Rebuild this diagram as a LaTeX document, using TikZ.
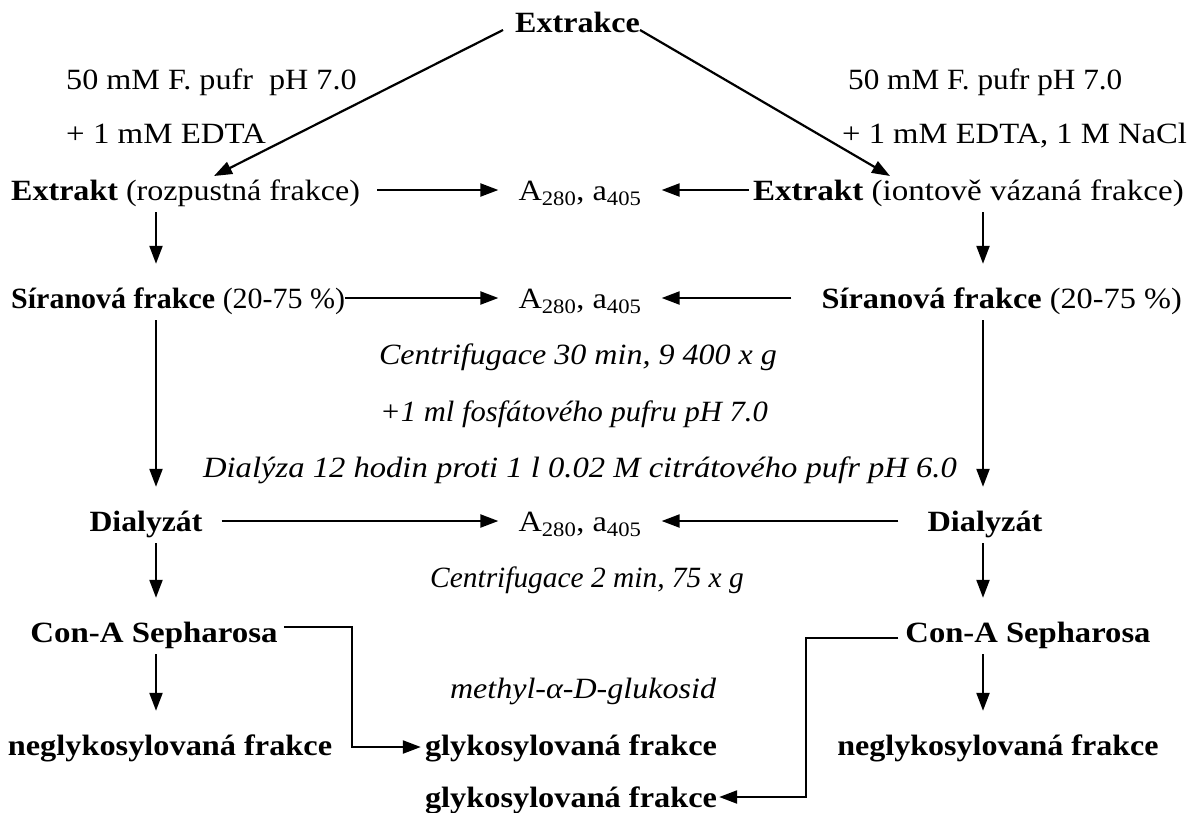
\documentclass[tikz,border=0pt]{standalone}
\usepackage{fontspec}
\setmainfont{Liberation Serif}
\usetikzlibrary{arrows.meta}
\newcommand{\sx}[2]{\scalebox{#1}[1]{#2}}
\begin{document}
\begin{tikzpicture}[x=1pt,y=-1pt,
  t/.style={inner sep=0pt, text height=20pt, text depth=0pt, font=\fontsize{29.4}{35}\selectfont},
  tb/.style={t, font=\fontsize{29.4}{35}\selectfont\bfseries},
  ti/.style={t, font=\fontsize{29.4}{35}\selectfont\itshape},
  arr/.style={line width=2.2pt, -{Triangle[length=18pt,width=13pt]}},
  harr/.style={arr, shorten <=#1, shorten >=20pt},
  varr/.style={arr, shorten <=12pt, shorten >=24pt}]
\useasboundingbox (0,0) rectangle (1194,812);
% column guides
\coordinate (cL) at (156,0);
\coordinate (cR) at (983,0);
% texts
\node[tb] (extr) at (577.5,22) {\sx{1.09}{Extrakce}};
\node[t, anchor=west] (bufL1) at (66,79) {\sx{1.094}{50 mM F. pufr\ \ pH 7.0}};
\node[t, anchor=west] (bufL2) at (66,133) {\sx{1.12}{+ 1 mM EDTA}};
\node[t, anchor=west] (bufR1) at (848,79) {\sx{1.062}{50 mM F. pufr pH 7.0}};
\node[t, anchor=west] (bufR2) at (842,133) {\sx{1.11}{+ 1 mM EDTA, 1 M NaCl}};
\node[t, anchor=west] (extL) at (11,190) {\sx{1.09}{\textbf{Extrakt} (rozpustná frakce)}};
\node[t] (a1) at (580,190) {\sx{1.1}{A\textsubscript{280}, a\textsubscript{405}}};
\node[t, anchor=east] (extR) at (1184,190) {\sx{1.125}{\textbf{Extrakt} (iontově vázaná frakce)}};
\node[t, anchor=west] (sirL) at (11,298) {\sx{1.02}{\textbf{Síranová frakce} (20-75 \%)}};
\node[t] (a2) at (580,298) {\sx{1.1}{A\textsubscript{280}, a\textsubscript{405}}};
\node[t, anchor=east] (sirR) at (1182,298) {\sx{1.1}{\textbf{Síranová frakce} (20-75 \%)}};
\node[ti] (cen1) at (578,354) {\sx{1.09}{Centrifugace 30 min, 9 400 x g}};
\node[ti] (fos) at (574,411) {\sx{1.04}{+1 ml fosfátového pufru pH 7.0}};
\node[ti] (dia) at (580,467) {\sx{1.11}{Dialýza 12 hodin proti 1 l 0.02 M citrátového pufr pH 6.0}};
\node[tb] (dialL) at (146,521) {\sx{1.08}{Dialyzát}};
\node[t] (a3) at (580,521) {\sx{1.1}{A\textsubscript{280}, a\textsubscript{405}}};
\node[tb] (dialR) at (985,521) {\sx{1.1}{Dialyzát}};
\node[ti] (cen2) at (587,577) {\sx{1.0}{Centrifugace 2 min, 75 x g}};
\node[tb] (conL) at (154,632) {\sx{1.12}{Con-A Sepharosa}};
\node[tb] (conR) at (1028,632) {\sx{1.11}{Con-A Sepharosa}};
\node[ti] (meth) at (583,688) {\sx{1.09}{methyl-α-D-glukosid}};
\node[tb] (negL) at (170,745) {\sx{1.1}{neglykosylovaná frakce}};
\node[tb] (glyM) at (571,745) {\sx{1.1}{glykosylovaná frakce}};
\node[tb] (negR) at (998,745) {\sx{1.09}{neglykosylovaná frakce}};
\node[tb] (glyB) at (571,797) {\sx{1.1}{glykosylovaná frakce}};
% diagonal arrows
\coordinate (dL0) at (503,30);
\coordinate (dL1) at (214,176);
\coordinate (dR0) at (640,30);
\coordinate (dR1) at (890,176);
\draw[arr] (dL0) -- (dL1);
\draw[arr] (dR0) -- (dR1);
% horizontal arrows to A280
\draw[harr=17pt] (extL.east) -- (a1.west);
\draw[harr=4pt] (extR.west) -- (a1.east);
\draw[harr=0pt] (sirL.east) -- (a2.west);
\draw[harr=30pt] (sirR.west) -- (a2.east);
\draw[harr=19pt] (dialL.east) -- (a3.west);
\draw[harr=29pt] (dialR.west) -- (a3.east);
% vertical arrows
\draw[varr] (extL.south -| cL) -- (sirL.north -| cL);
\draw[varr] (sirL.south -| cL) -- (dialL.north -| cL);
\draw[varr] (dialL.south -| cL) -- (conL.north -| cL);
\draw[varr] (conL.south -| cL) -- (negL.north -| cL);
\draw[varr] (extR.south -| cR) -- (sirR.north -| cR);
\draw[varr] (sirR.south -| cR) -- (dialR.north -| cR);
\draw[varr] (dialR.south -| cR) -- (conR.north -| cR);
\draw[varr] (conR.south -| cR) -- (negR.north -| cR);
% Con-A elbow connectors
\coordinate (eL) at (352,0);
\coordinate (eR) at (806,0);
\draw[arr] ([xshift=6pt,yshift=5pt]conL.east) -| ([yshift=-2pt]glyM.west -| eL) -- ([xshift=-4pt,yshift=-2pt]glyM.west);
\draw[arr] ([xshift=-7pt,yshift=-6pt]conR.west) -| (glyB.east -| eR) -- ([xshift=2pt]glyB.east);
\end{tikzpicture}
\end{document}
